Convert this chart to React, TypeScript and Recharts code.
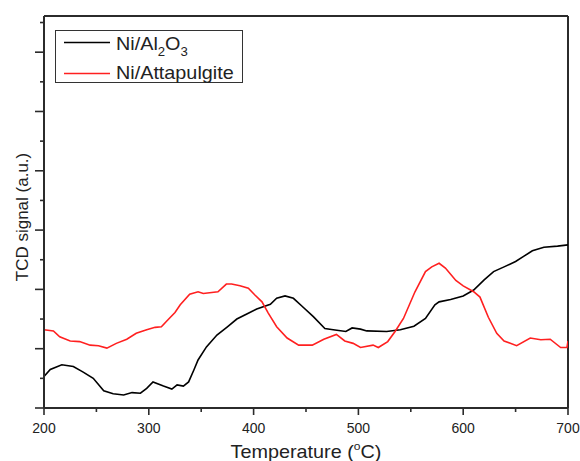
import { LineChart, Line, XAxis, YAxis, ReferenceLine, Legend } from "recharts";

// Ni/Al2O3 trace
const tempAl2O3 = [
  200, 206, 217, 228, 237, 247, 257, 266, 276, 284, 292, 298, 304, 314, 322, 327, 333, 338, 343, 347,
  355, 365, 375, 384, 394, 403, 416, 422, 430, 438, 446, 457, 468, 476, 488, 494, 502, 508, 527, 540,
  553, 564, 573, 577, 588, 600, 610, 620, 629, 639, 650, 658, 666, 677, 690, 700,
];
const tcdAl2O3 = [
  0.53, 0.65, 0.73, 0.7, 0.61, 0.5, 0.29, 0.24, 0.22, 0.26, 0.25, 0.33, 0.44, 0.37, 0.32, 0.39, 0.37, 0.44, 0.64, 0.81,
  1.03, 1.23, 1.37, 1.5, 1.59, 1.67, 1.75, 1.85, 1.89, 1.85, 1.72, 1.54, 1.34, 1.32, 1.29, 1.35, 1.33, 1.3, 1.29, 1.32,
  1.38, 1.51, 1.74, 1.79, 1.83, 1.89, 1.99, 2.16, 2.3, 2.38, 2.47, 2.56, 2.65, 2.71, 2.73, 2.75,
];

// Ni/Attapulgite trace
const tempAtta = [
  200, 209, 215, 225, 234, 244, 252, 260, 269, 279, 288, 298, 306, 312, 319, 325, 330, 339, 347, 352,
  366, 374, 379, 387, 395, 401, 408, 414, 422, 432, 443, 456, 467, 479, 487, 495, 502, 514, 519, 528,
  535, 543, 554, 564, 570, 577, 583, 593, 600, 610, 616, 624, 632, 639, 651, 664, 674, 683, 693, 699, 700,
];
const tcdAtta = [
  1.32, 1.3, 1.2, 1.13, 1.12, 1.06, 1.05, 1.01, 1.09, 1.16, 1.26, 1.32, 1.36, 1.37, 1.5, 1.61, 1.74, 1.92, 1.96, 1.93,
  1.96, 2.09, 2.09, 2.06, 2.02, 1.91, 1.79, 1.6, 1.37, 1.18, 1.06, 1.06, 1.16, 1.24, 1.13, 1.09, 1.02, 1.06, 1.02, 1.12,
  1.29, 1.51, 1.96, 2.3, 2.38, 2.44, 2.36, 2.15, 2.06, 1.96, 1.87, 1.53, 1.26, 1.13, 1.05, 1.18, 1.15, 1.16, 1.02, 1.02, 1.13,
];

const xTicks = [200, 250, 300, 350, 400, 450, 500, 550, 600, 650, 700];
const yTicks = [0, 0.5, 1, 1.5, 2, 2.5, 3, 3.5, 4, 4.5, 5, 5.5, 6, 6.5];
const yMax = 6.61;

const AXIS = "#2b2b2b";
const FONT = "Arial, 'Liberation Sans', sans-serif";

const al2o3Data = tempAl2O3.map((t, i) => ({ t, v: tcdAl2O3[i] }));
const attaData = tempAtta.map((t, i) => ({ t, v: tcdAtta[i] }));

const XTick = (props: any) => {
  const { x, y, payload } = props;
  const major = payload.value % 100 === 0;
  return (
    <g>
      <line x1={x} x2={x} y1={y} y2={y + (major ? 7 : 4)} stroke={AXIS} strokeWidth={1.6} />
      {major && (
        <text x={x} y={y + 25} textAnchor="middle" fontSize={14} fontFamily={FONT} fill="#222">
          {payload.value}
        </text>
      )}
    </g>
  );
};

const YTick = (props: any) => {
  const { x, y, payload } = props;
  const major = Number.isInteger(payload.value);
  return <line x1={x - (major ? 9 : 4)} x2={x} y1={y} y2={y} stroke={AXIS} strokeWidth={1.6} />;
};

const XTitle = () => (
  <text
    transform="translate(306 458) scale(1.1 1)"
    textAnchor="middle"
    fontSize={18}
    fontFamily={FONT}
    fill="#222"
  >
    Temperature (
    <tspan fontSize={11} dy={-8}>
      o
    </tspan>
    <tspan dy={8}>C)</tspan>
  </text>
);

const YTitle = () => (
  <text
    transform="translate(28 217) rotate(-90)"
    textAnchor="middle"
    fontSize={17}
    fontFamily={FONT}
    fill="#222"
  >
    TCD signal (a.u.)
  </text>
);

const LegendBox = () => (
  <svg width={188} height={53}>
    <rect x={0.5} y={0.5} width={187} height={52} fill="#fff" stroke="#333" strokeWidth={1} />
    <line x1={9} x2={55} y1={12.5} y2={12.5} stroke="#000" strokeWidth={1.6} />
    <line x1={9} x2={55} y1={43.5} y2={43.5} stroke="#ff2020" strokeWidth={1.6} />
    <text transform="translate(61 20) scale(1.1 1)" fontSize={18} fontFamily={FONT} fill="#222">
      Ni/Al
      <tspan fontSize={12} dy={6}>2</tspan>
      <tspan dy={-6}>O</tspan>
      <tspan fontSize={12} dy={6}>3</tspan>
    </text>
    <text transform="translate(61 49) scale(1.1 1)" fontSize={18} fontFamily={FONT} fill="#222">
      Ni/Attapulgite
    </text>
  </svg>
);

export default function App() {
  return (
    <div>
      <style>{"body{margin:0}"}</style>
      <LineChart width={580} height={461} margin={{ top: 16, right: 12, bottom: 0, left: 0 }}>
        <XAxis
          dataKey="t"
          type="number"
          domain={[200, 700]}
          ticks={xTicks}
          allowDataOverflow
          height={53}
          tickSize={0}
          tickMargin={0}
          tickLine={false}
          tick={<XTick />}
          axisLine={{ stroke: AXIS, strokeWidth: 2 }}
          label={{ content: () => <XTitle /> }}
        />
        <YAxis
          type="number"
          domain={[0, yMax]}
          ticks={yTicks}
          allowDataOverflow
          width={44}
          tickSize={0}
          tickMargin={0}
          tickLine={false}
          tick={<YTick />}
          axisLine={{ stroke: AXIS, strokeWidth: 2 }}
          label={{ content: () => <YTitle /> }}
        />
        <ReferenceLine y={yMax} stroke={AXIS} strokeWidth={2} />
        <ReferenceLine x={700} stroke={AXIS} strokeWidth={2} />
        <Line
          data={al2o3Data}
          dataKey="v"
          name="Ni/Al2O3"
          stroke="#000"
          strokeWidth={1.6}
          dot={false}
          type="linear"
          isAnimationActive={false}
        />
        <Line
          data={attaData}
          dataKey="v"
          name="Ni/Attapulgite"
          stroke="#ff2020"
          strokeWidth={1.6}
          dot={false}
          type="linear"
          isAnimationActive={false}
        />
        <Legend
          layout="vertical"
          align="center"
          verticalAlign="middle"
          content={() => <LegendBox />}
          wrapperStyle={{ position: "absolute", left: 55, top: 30, width: 188, height: 53 }}
        />
      </LineChart>
    </div>
  );
}
